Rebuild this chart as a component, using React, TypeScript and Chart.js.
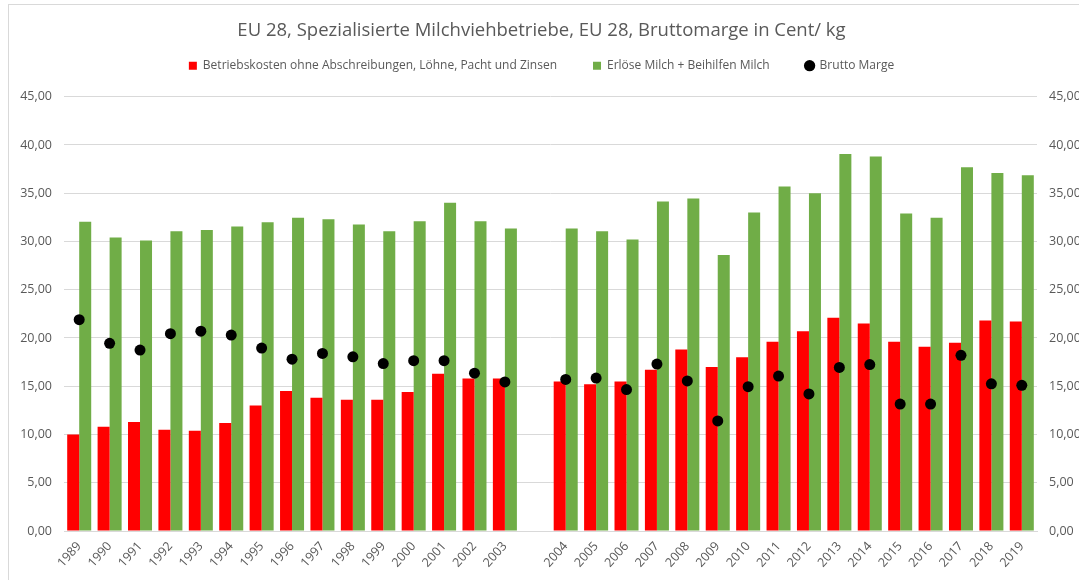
import React, { useEffect, useRef } from 'react';
import { Chart, registerables } from 'chart.js';

Chart.register(...registerables);

const years = [
  '1989', '1990', '1991', '1992', '1993', '1994', '1995', '1996', '1997', '1998',
  '1999', '2000', '2001', '2002', '2003', '',
  '2004', '2005', '2006', '2007', '2008', '2009', '2010', '2011', '2012', '2013',
  '2014', '2015', '2016', '2017', '2018', '2019',
];

const betriebskosten = [
  10.0, 10.8, 11.3, 10.5, 10.4, 11.2, 13.0, 14.5, 13.8, 13.6,
  13.6, 14.4, 16.3, 15.8, 15.8, null,
  15.5, 15.2, 15.5, 16.7, 18.8, 17.0, 18.0, 19.6, 20.7, 22.1,
  21.5, 19.6, 19.1, 19.5, 21.8, 21.7,
];

const erloese = [
  32.05, 30.4, 30.1, 31.05, 31.2, 31.55, 32.0, 32.45, 32.3, 31.75,
  31.05, 32.1, 34.0, 32.1, 31.35, null,
  31.35, 31.05, 30.2, 34.15, 34.45, 28.6, 33.0, 35.7, 35.0, 39.05,
  38.8, 32.9, 32.45, 37.7, 37.1, 36.85,
];

const bruttoMarge = [
  21.9, 19.45, 18.75, 20.45, 20.7, 20.3, 18.95, 17.8, 18.4, 18.05,
  17.35, 17.65, 17.65, 16.35, 15.45, null,
  15.7, 15.85, 14.65, 17.3, 15.55, 11.4, 14.95, 16.05, 14.2, 16.95,
  17.25, 13.15, 13.15, 18.2, 15.25, 15.1,
];

const seriesNames = [
  'Betriebskosten ohne Abschreibungen, Löhne, Pacht und Zinsen',
  'Erlöse Milch + Beihilfen Milch',
  'Brutto Marge',
];

const titleText = 'EU 28, Spezialisierte Milchviehbetriebe, EU 28, Bruttomarge in Cent/ kg';

const yMin = 0;
const yMax = 45;
const yStep = 5;

const FONT = '"Open Sans", "DejaVu Sans", sans-serif';
const TEXT = '#595959';
const GRID = '#D9D9D9';

const fmt = (v: number | string) => Number(v).toFixed(2).replace('.', ',');

export default function App() {
  const canvasRef = useRef<HTMLCanvasElement | null>(null);

  useEffect(() => {
    const canvas = canvasRef.current;
    if (!canvas) return;
    const chart = new Chart(canvas, {
      type: 'bar',
      data: {
        labels: years,
        datasets: [
          {
            type: 'bar',
            label: seriesNames[0],
            data: betriebskosten,
            backgroundColor: '#FF0000',
            borderWidth: 0,
            pointStyle: 'rect',
            categoryPercentage: 0.79,
            barPercentage: 1.0,
            yAxisID: 'y',
            order: 1,
          },
          {
            type: 'bar',
            label: seriesNames[1],
            data: erloese,
            backgroundColor: '#70AD47',
            borderWidth: 0,
            pointStyle: 'rect',
            categoryPercentage: 0.79,
            barPercentage: 1.0,
            yAxisID: 'y',
            order: 2,
          },
          {
            type: 'line',
            label: seriesNames[2],
            data: bruttoMarge,
            showLine: false,
            pointStyle: 'circle',
            pointRadius: 5.5,
            pointHoverRadius: 5.5,
            pointBackgroundColor: '#000000',
            pointBorderColor: '#000000',
            backgroundColor: '#000000',
            borderColor: '#000000',
            pointBorderWidth: 0,
            yAxisID: 'y',
            order: -1,
          },
        ],
      },
      options: {
        animation: false,
        responsive: false,
        maintainAspectRatio: false,
        layout: { padding: 0 },
        plugins: {
          tooltip: { enabled: false },
          title: {
            display: true,
            text: titleText,
            color: TEXT,
            font: { family: FONT, size: 18.5, weight: 'normal', lineHeight: 1.2 },
            padding: { top: 20, bottom: -18.5 },
          },
          legend: {
            display: true,
            position: 'top',
            labels: {
              color: TEXT,
              font: { family: FONT, size: 12 },
              usePointStyle: true,
              boxWidth: 8,
              boxHeight: 8,
              padding: 36,
              sort: (a: any, b: any) => a.datasetIndex - b.datasetIndex,
            },
          },
        },
        scales: {
          x: {
            type: 'category',
            offset: true,
            grid: { display: false, drawTicks: false },
            border: { display: true, color: GRID, width: 1 },
            ticks: {
              color: TEXT,
              font: { family: FONT, size: 12.5 },
              minRotation: 48,
              maxRotation: 48,
              autoSkip: false,
              padding: 8,
            },
            afterFit: (s: any) => { s.height = 49; },
          },
          xTop: {
            type: 'category',
            position: 'top',
            display: true,
            grid: { display: false, drawTicks: false },
            border: { display: false },
            ticks: { display: false },
            afterFit: (s: any) => { s.height = 15; },
          },
          y: {
            type: 'linear',
            position: 'left',
            min: yMin,
            max: yMax,
            grid: { color: GRID, lineWidth: 1, drawTicks: false },
            border: { display: false },
            ticks: {
              stepSize: yStep,
              color: TEXT,
              font: { family: FONT, size: 12.5 },
              padding: 12,
              callback: (v: any) => fmt(v),
            },
            afterFit: (s: any) => { s.width = 64; },
          },
          y1: {
            type: 'linear',
            position: 'right',
            display: true,
            min: yMin,
            max: yMax,
            grid: { display: false, drawTicks: false },
            border: { display: false },
            ticks: {
              stepSize: yStep,
              color: TEXT,
              font: { family: FONT, size: 12.5 },
              padding: 12,
              callback: (v: any) => fmt(v),
            },
            afterFit: (s: any) => { s.width = 46; },
          },
        },
      },
    });
    return () => chart.destroy();
  }, []);

  return (
    <div
      style={{
        position: 'absolute',
        left: 0,
        top: 0,
        width: 1079,
        height: 580,
        overflow: 'hidden',
        background: '#ffffff',
      }}
    >
      <div
        style={{
          position: 'absolute',
          left: 8,
          top: 4,
          width: 2000,
          height: 2000,
          border: '1px solid #D9D9D9',
          boxSizing: 'border-box',
        }}
      />
      <canvas
        ref={canvasRef}
        width={1083}
        height={580}
        style={{ position: 'absolute', left: 0, top: 0, width: 1083, height: 580 }}
      />
    </div>
  );
}
